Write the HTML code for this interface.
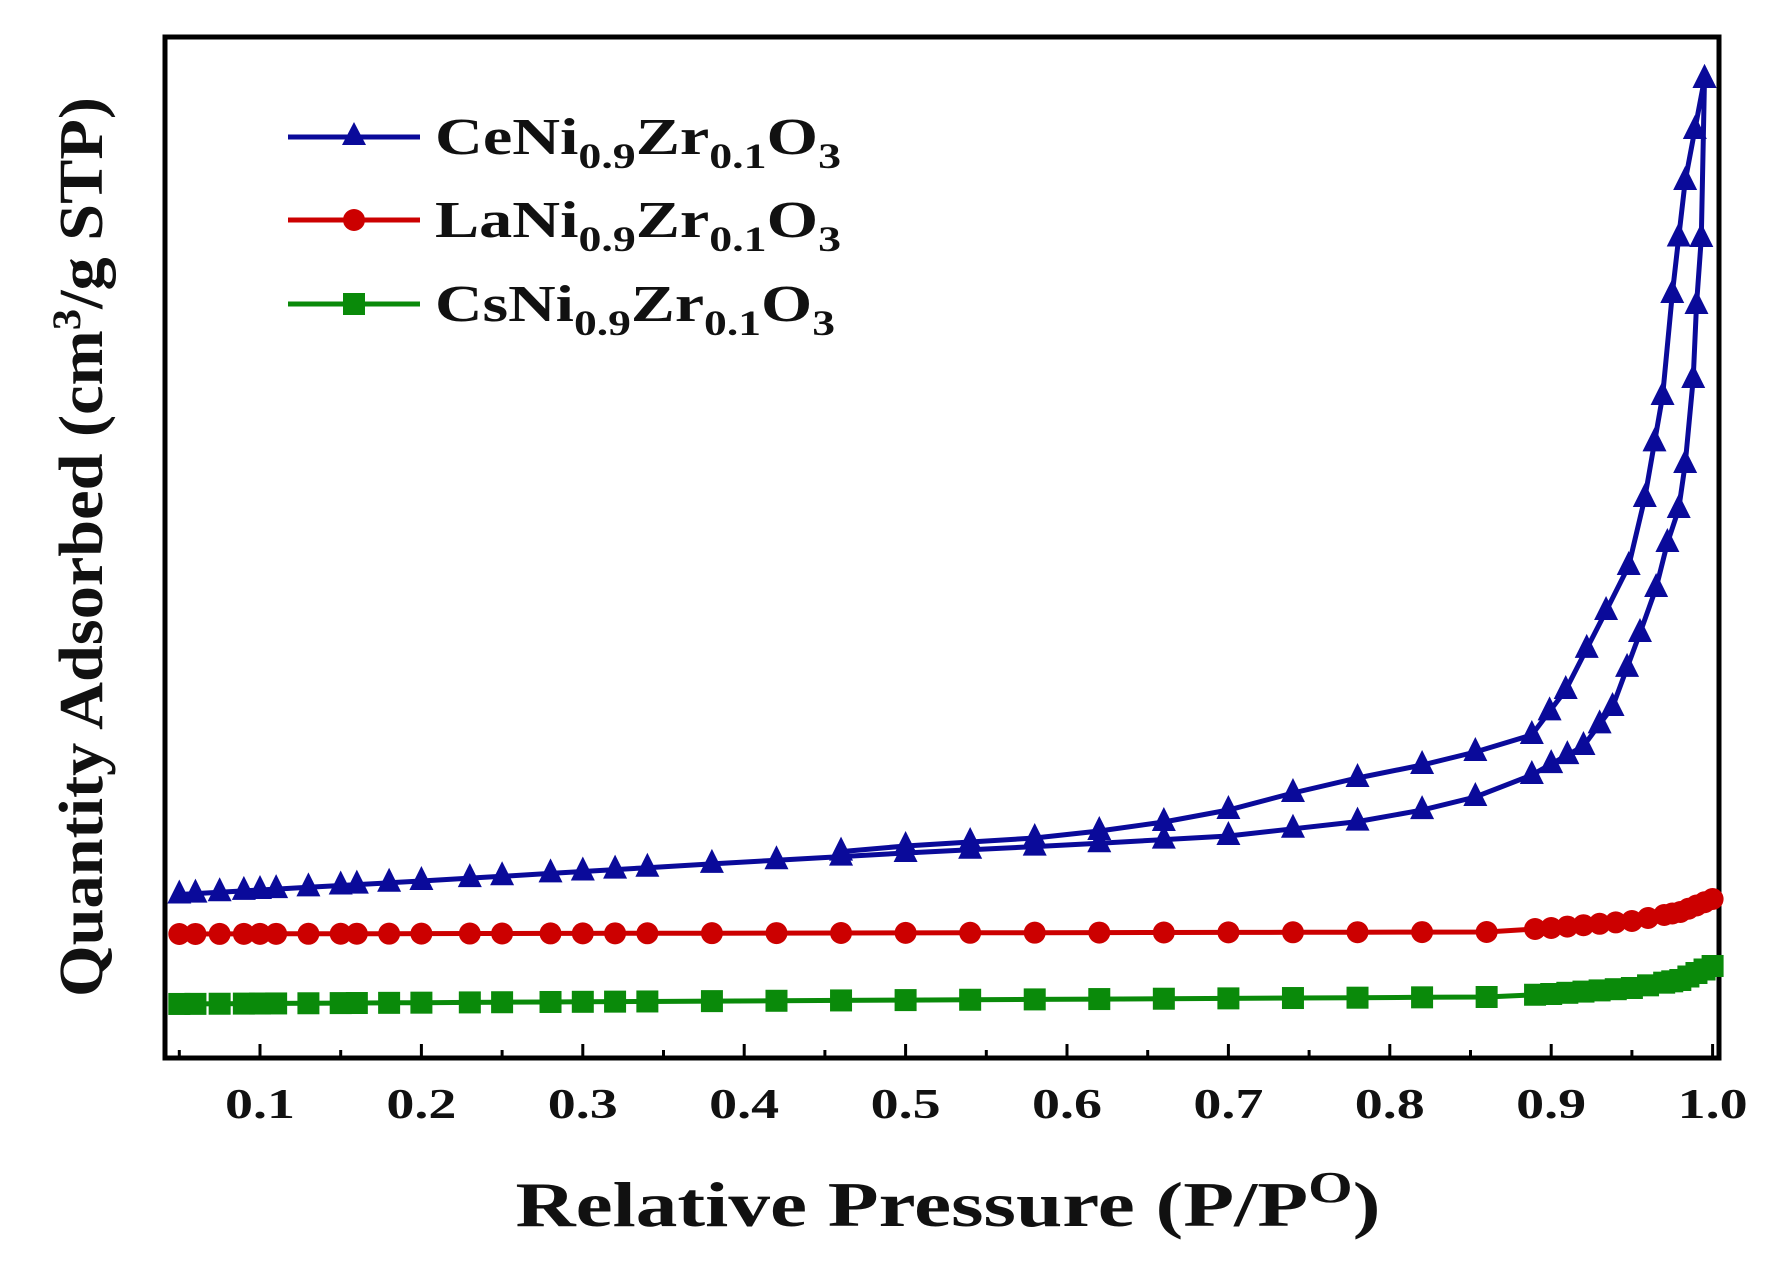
<!DOCTYPE html>
<html><head><meta charset="utf-8"><style>
html,body{margin:0;padding:0;background:#fff;}
svg{display:block;font-family:"Liberation Serif",serif;font-weight:bold;}
</style></head><body>
<svg id="s" width="1773" height="1266" viewBox="0 0 1773 1266" xmlns="http://www.w3.org/2000/svg">
<rect x="165" y="37" width="1554" height="1021" fill="none" stroke="#000" stroke-width="5"/>
<g id="ticks"></g>
<g id="series"></g>
<g font-size="42" text-anchor="middle" fill="#111" id="tl"></g>
<text x="948" y="1226" font-size="64" text-anchor="middle" fill="#111" textLength="865" lengthAdjust="spacingAndGlyphs">Relative Pressure (P/P<tspan dy="-24" font-size="44">O</tspan><tspan dy="24">)</tspan></text>
<text transform="translate(102,547) rotate(-90)" font-size="62" text-anchor="middle" fill="#111" textLength="900" lengthAdjust="spacingAndGlyphs">Quantity Adsorbed (cm<tspan dy="-22" font-size="40">3</tspan><tspan dy="22">/g STP)</tspan></text>
<g font-size="52" fill="#111">
<line x1="288" y1="137" x2="420" y2="137" stroke="#0a0a9a" stroke-width="5"/>
<polygon points="354,122 342,145 366,145" fill="#0a0a9a"/>
<text x="435" y="154" textLength="406" lengthAdjust="spacingAndGlyphs">CeNi<tspan font-size="36" dy="14">0.9</tspan><tspan dy="-14">Zr</tspan><tspan font-size="36" dy="14">0.1</tspan><tspan dy="-14">O</tspan><tspan font-size="36" dy="14">3</tspan></text>
<line x1="288" y1="220" x2="420" y2="220" stroke="#cc0000" stroke-width="5"/>
<circle cx="354" cy="220" r="11" fill="#cc0000"/>
<text x="435" y="237" textLength="406" lengthAdjust="spacingAndGlyphs">LaNi<tspan font-size="36" dy="14">0.9</tspan><tspan dy="-14">Zr</tspan><tspan font-size="36" dy="14">0.1</tspan><tspan dy="-14">O</tspan><tspan font-size="36" dy="14">3</tspan></text>
<line x1="288" y1="304" x2="420" y2="304" stroke="#0a8a0a" stroke-width="5"/>
<rect x="343" y="293" width="22" height="22" fill="#0a8a0a"/>
<text x="435" y="321" textLength="400" lengthAdjust="spacingAndGlyphs">CsNi<tspan font-size="36" dy="14">0.9</tspan><tspan dy="-14">Zr</tspan><tspan font-size="36" dy="14">0.1</tspan><tspan dy="-14">O</tspan><tspan font-size="36" dy="14">3</tspan></text>
</g>
</svg>
<script>
var NS="http://www.w3.org/2000/svg";
function X(p){return 260+(p-0.1)*1614;}
function interp(pts,p){for(var i=0;i<pts.length-1;i++){if(p>=pts[i][0]&&p<=pts[i+1][0]){var t=(p-pts[i][0])/(pts[i+1][0]-pts[i][0]);return pts[i][1]+t*(pts[i+1][1]-pts[i][1]);}}return pts[pts.length-1][1];}
var tl=document.getElementById("tl");
for(var k=1;k<=10;k++){var t=document.createElementNS(NS,"text");t.setAttribute("x",X(k/10));t.setAttribute("y",1118);t.setAttribute("textLength","70");t.setAttribute("lengthAdjust","spacingAndGlyphs");t.textContent=(k==10?"1.0":"0."+k);tl.appendChild(t);}
var tk=document.getElementById("ticks"),d="";
for(var p=0.05;p<=1.0001;p+=0.05){var x=X(p);var big=Math.abs(p*10-Math.round(p*10))<0.01;d+="M"+x+" 1056V"+(big?1044:1050);}
var tp=document.createElementNS(NS,"path");tp.setAttribute("d",d);tp.setAttribute("stroke","#000");tp.setAttribute("stroke-width","3");tk.appendChild(tp);
var ads=[[0.045,895],[0.2,881],[0.4,862],[0.5,853],[0.6,845],[0.7,836],[0.8,818],[0.853,797],[0.888,775],[0.92,746],[0.938,707],[0.955,633],[0.965,588],[0.972,543],[0.979,509],[0.983,464],[0.988,379],[0.990,305],[0.993,238],[0.995,79]];
var des=[[0.45,853],[0.5,846],[0.58,838],[0.62,831],[0.66,822],[0.7,810],[0.74,793],[0.78,778],[0.82,765],[0.853,752],[0.888,735],[0.909,690],[0.934,611],[0.948,566],[0.958,498],[0.969,396],[0.975,294],[0.983,181],[0.995,79]];
var red=[[0.045,934],[0.86,932],[0.9,928],[0.95,921],[0.98,912],[1.0,899]];
var grn=[[0.045,1004],[0.86,997],[0.9,994],[0.95,988],[0.98,980],[1.0,966]];
var ps=[0.05,0.06,0.075,0.09,0.1,0.11,0.13,0.15,0.16,0.18,0.2,0.23,0.25,0.28,0.3,0.32,0.34,0.38,0.42,0.46,0.5,0.54,0.58,0.62,0.66,0.7,0.74,0.78,0.82,0.86,0.89,0.9,0.91,0.92,0.93,0.94,0.95,0.96,0.97,0.975,0.98,0.985,0.99,0.995,1.0];
var bps=[0.05,0.06,0.075,0.09,0.1,0.11,0.13,0.15,0.16,0.18,0.2,0.23,0.25,0.28,0.3,0.32,0.34,0.38,0.42,0.46,0.5,0.54,0.58,0.62,0.66,0.7,0.74,0.78,0.82,0.853,0.888,0.9,0.91,0.92,0.93,0.938,0.947,0.955,0.965,0.972,0.979,0.983,0.988,0.990,0.993,0.995];
var dps=[0.46,0.5,0.54,0.58,0.62,0.66,0.7,0.74,0.78,0.82,0.853,0.888,0.899,0.909,0.922,0.934,0.948,0.958,0.964,0.969,0.975,0.979,0.983,0.989,0.995];
var g=document.getElementById("series");
function line(pts,col,ptsP){var s="";ptsP.forEach(function(p,i){s+=(i?"L":"M")+X(p).toFixed(1)+" "+interp(pts,p).toFixed(1);});var e=document.createElementNS(NS,"path");e.setAttribute("d",s);e.setAttribute("fill","none");e.setAttribute("stroke",col);e.setAttribute("stroke-width","5");g.appendChild(e);}
function mk(pts,col,type,ptsP){ptsP.forEach(function(p){var x=X(p),y=interp(pts,p),e;if(type=="t"){e=document.createElementNS(NS,"polygon");e.setAttribute("points",x+","+(y-15)+" "+(x-12)+","+(y+9)+" "+(x+12)+","+(y+9));}else if(type=="c"){e=document.createElementNS(NS,"circle");e.setAttribute("cx",x);e.setAttribute("cy",y);e.setAttribute("r",11);}else{e=document.createElementNS(NS,"rect");e.setAttribute("x",x-11);e.setAttribute("y",y-11);e.setAttribute("width",22);e.setAttribute("height",22);}e.setAttribute("fill",col);g.appendChild(e);});}
line(ads,"#0a0a9a",bps);line(des,"#0a0a9a",dps);
line(red,"#cc0000",ps);line(grn,"#0a8a0a",ps);
mk(ads,"#0a0a9a","t",bps);mk(des,"#0a0a9a","t",dps);
mk(red,"#cc0000","c",ps);mk(grn,"#0a8a0a","s",ps);
</script>
</body></html>
